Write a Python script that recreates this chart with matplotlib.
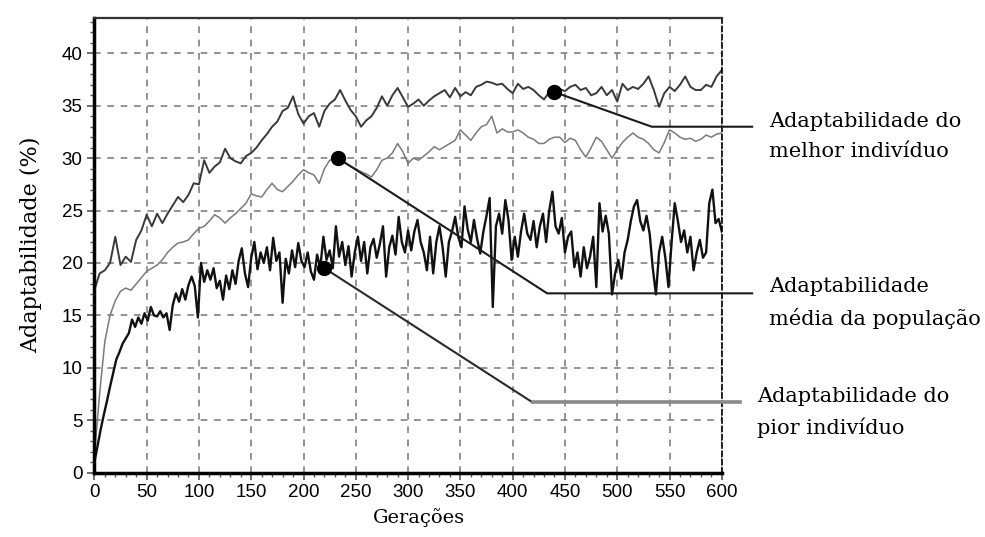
import numpy as np
from matplotlib import pyplot as plt
from matplotlib.ticker import MultipleLocator

geracoes = np.arange(0, 601, 5)
geracoes_pior = np.arange(0, 601, 3)

melhor = [17.4, 19.0, 19.3, 20.0, 22.5, 19.8, 20.6, 20.1, 22.2, 23.1,
          24.6, 23.5, 24.7, 23.8, 24.7, 25.5, 26.3, 25.8, 26.5, 27.6,
          27.5, 29.8, 28.6, 29.2, 29.6, 30.9, 30.0, 29.7, 29.5, 30.2,
          30.5, 31.0, 31.7, 32.3, 33.0, 33.5, 34.5, 34.8, 35.9, 34.2,
          33.3, 34.0, 34.3, 33.0, 34.5, 35.2, 35.6, 36.5, 35.5, 34.6,
          34.0, 33.0, 33.6, 34.0, 34.8, 35.9, 35.0, 36.0, 36.7, 35.8,
          34.9, 35.2, 35.6, 35.0, 35.5, 35.9, 36.2, 36.5, 35.8, 36.7,
          35.9, 36.3, 36.0, 36.8, 37.0, 37.3, 37.2, 37.0, 37.1, 36.6,
          36.2, 37.1, 36.6, 36.8, 36.5, 36.0, 35.6, 36.3, 36.3, 36.6,
          36.4, 36.8, 37.0, 36.5, 36.7, 36.0, 36.2, 36.8, 36.0, 36.5,
          35.4, 37.1, 36.5, 36.8, 36.6, 37.1, 37.8, 36.5, 34.9, 36.2,
          36.8, 36.4, 37.0, 37.8, 36.8, 36.5, 36.5, 37.0, 36.8, 37.8,
          38.4]

media = [1.5, 7.5, 12.5, 15.0, 16.4, 17.3, 17.6, 17.4, 18.0, 18.6,
         19.2, 19.5, 19.8, 20.3, 21.0, 21.5, 21.9, 22.0, 22.2, 22.8,
         23.3, 23.5, 24.0, 24.6, 24.3, 23.8, 24.3, 24.7, 25.2, 25.7,
         26.6, 26.4, 26.3, 27.0, 27.6, 27.0, 26.8, 27.3, 27.8, 28.4,
         28.9, 28.6, 28.4, 27.6, 29.0, 29.8, 29.9, 30.0, 29.5, 29.2,
         29.0, 28.7, 28.5, 28.2, 28.9, 29.8, 30.0, 30.5, 31.4, 30.6,
         29.5, 30.0, 29.8, 30.2, 30.6, 31.1, 30.8, 31.1, 31.4, 31.7,
         32.7, 32.2, 31.7, 32.4, 33.0, 33.2, 34.0, 32.4, 32.8, 32.5,
         32.5, 32.7, 32.4, 32.0, 31.8, 31.4, 31.4, 31.8, 32.0, 32.0,
         31.5, 31.9, 31.7, 30.8, 30.1, 31.0, 32.0, 31.6, 30.8, 30.0,
         30.8, 31.5, 32.0, 32.4, 32.0, 31.8, 31.4, 30.8, 30.5, 31.5,
         32.7, 32.4, 32.0, 31.8, 31.9, 31.6, 31.8, 32.2, 32.0, 32.3,
         32.4]

pior = [1.0, 2.5, 4.1, 5.5, 6.8, 8.2, 9.5, 10.8, 11.5, 12.3,
        12.8, 13.3, 14.6, 13.9, 14.8, 14.2, 15.2, 14.5, 15.8, 15.0,
        14.9,
        15.4, 14.8, 15.2, 13.6, 16.0, 17.1, 16.3, 17.5, 16.5, 17.9,
        18.7, 17.8, 14.8, 20.0, 18.2, 19.3, 18.4, 19.5, 17.6, 18.3,
        16.5, 18.8, 17.5, 19.3, 18.0, 20.2, 21.4, 19.0, 17.7, 20.5,
        22.0, 19.4, 21.0, 20.0, 21.5, 19.3, 22.4, 20.2, 21.0, 16.2,
        20.4, 19.0, 21.2, 19.6, 21.9, 20.2, 19.6, 21.0, 19.2, 18.4,
        20.8, 19.5, 22.5, 20.3, 21.2, 19.5, 23.5, 20.6, 22.0, 19.8,
        21.6, 18.7, 21.0, 22.5, 20.2, 22.0, 19.0, 21.5, 22.3, 20.5,
        21.8, 23.5, 18.7, 21.5, 22.6, 20.8, 24.4, 22.0, 21.0, 23.1,
        21.2, 23.0, 24.1, 22.0, 21.0, 19.3, 22.5, 19.0, 22.0, 23.5,
        21.5, 18.7, 22.0, 23.0, 24.4, 22.5, 21.5, 25.4, 23.2, 22.0,
        24.1, 22.3, 20.9, 23.0, 24.5, 26.2, 15.8, 23.5, 24.7, 22.8,
        26.0, 24.1, 20.3, 22.5, 20.6, 23.0, 24.7, 22.8, 22.2, 24.0,
        21.5, 23.5, 24.7, 22.0, 25.0, 26.8, 23.5, 22.8, 24.3, 21.0,
        22.5, 23.0, 19.6, 21.0, 18.7, 21.5, 19.5, 20.6, 22.5, 17.7,
        25.7, 23.0, 24.5, 22.8, 17.0, 19.0, 20.3, 18.5, 21.0, 22.2,
        24.0, 25.4, 26.0, 24.0, 23.1, 24.5, 22.8, 19.5, 17.0, 21.0,
        22.5, 20.5, 17.7, 22.0, 25.7, 24.0, 22.0, 23.1, 21.0, 22.5,
        19.3, 21.0, 22.2, 20.5, 21.0, 25.7, 27.0, 23.8, 24.2, 23.0]

# rotulos: ponto na curva, dobra da linha, fim da linha, texto
rotulos = [
    ((440, 36.3), (533, 33.0), 629, 'Adaptabilidade do\nmelhor indivíduo'),
    ((233, 30.0), (433, 17.1), 629, 'Adaptabilidade\nmédia da população'),
    ((220, 19.5), (419, 6.7), 617, 'Adaptabilidade do\npior indivíduo'),
]

fig = plt.figure(figsize=(9.85, 5.37), dpi=100)
ax = fig.add_axes([0.0958, 0.12, 0.637, 0.847])

ax.plot(geracoes, melhor, color='#3a3a3a', lw=1.4)
ax.plot(geracoes, media, color='#7a7a7a', lw=1.1)
ax.plot(geracoes_pior, pior, color='#111111', lw=1.7)

ax.set_xlim(0, 600)
ax.set_ylim(0, 43.4)
ax.xaxis.set_major_locator(MultipleLocator(50))
ax.xaxis.set_minor_locator(MultipleLocator(10))
ax.yaxis.set_major_locator(MultipleLocator(5))
ax.yaxis.set_minor_locator(MultipleLocator(1))
ax.grid(True, which='major', color='#808080', ls=(0, (4, 4)), lw=1.2)
ax.tick_params(which='both', direction='out', colors='#555555',
               labelcolor='black', labelsize=13.5)
ax.tick_params(which='major', length=5, width=1.2)
ax.tick_params(which='minor', length=3, width=1)
for lbl in ax.get_xticklabels() + ax.get_yticklabels():
    lbl.set_family('Liberation Sans')

for s in ['left', 'bottom']:
    ax.spines[s].set_linewidth(2.5)
    ax.spines[s].set_color('black')
ax.spines['top'].set_linewidth(1.6)
ax.spines['top'].set_color('#333333')
ax.spines['right'].set_linestyle((0, (3, 2)))
ax.spines['right'].set_linewidth(1.2)

ax.set_xlabel('Gerações', family='DejaVu Serif', fontsize=14, labelpad=5)
ax.xaxis.label.set_x(0.517)
ax.set_ylabel('Adaptabilidade (%)', family='DejaVu Serif', fontsize=16,
              labelpad=14)

for i, (ponto, dobra, fim, texto) in enumerate(rotulos):
    ax.plot(*ponto, 'o', color='black', ms=10, zorder=5)
    if i < 2:
        ax.plot([ponto[0], dobra[0], fim], [ponto[1], dobra[1], dobra[1]],
                color='#1a1a1a', lw=1.5, clip_on=False, zorder=4)
        tx = 645
    else:
        ax.plot([ponto[0], dobra[0]], [ponto[1], dobra[1]],
                color='#2a2a2a', lw=1.5, clip_on=False, zorder=4)
        ax.plot([dobra[0], fim], [dobra[1], dobra[1]],
                color='#8a8a8a', lw=2.6, clip_on=False, zorder=4)
        tx = 634
    ax.text(tx, dobra[1] - 0.95, texto, family='DejaVu Serif', fontsize=15,
            va='center', ha='left', linespacing=1.7, clip_on=False)

fig.savefig('out.png', dpi=100)
